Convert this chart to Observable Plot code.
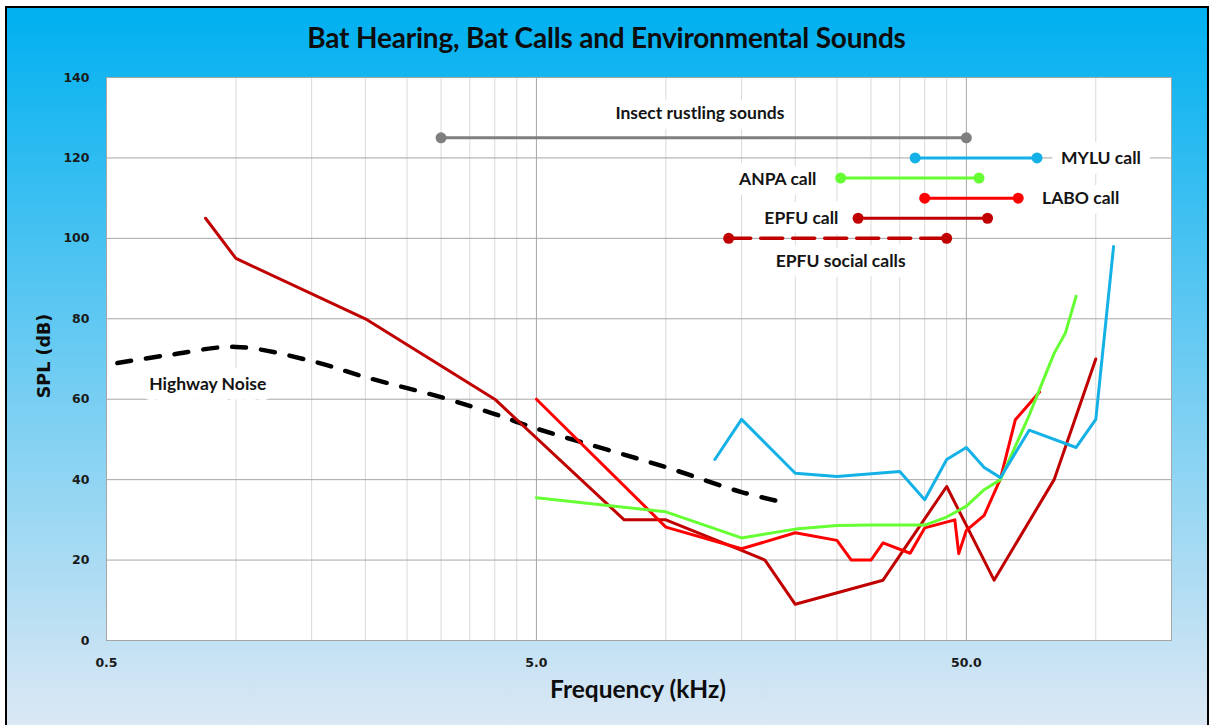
<!DOCTYPE html>
<html>
<head>
<meta charset="utf-8">
<script src="https://cdn.jsdelivr.net/npm/d3@7"></script>
<script src="https://cdn.jsdelivr.net/npm/@observablehq/plot@0.6"></script>
<style>
  html, body { margin: 0; padding: 0; background: #fff; }
  body { width: 1209px; height: 725px; position: relative; overflow: hidden; }
  #bg { position: absolute; left: 5px; top: 6px; width: 1204px; height: 725px; box-sizing: border-box;
        border-left: 2px solid #000; border-top: 2px solid #000; border-right: 2px solid #000;
        background: linear-gradient(to bottom, #00b0f0 0%, #dde8f4 100%); }
  #title { position: absolute; left: 0; top: 20px; width: 1213px; text-align: center;
           font: bold 28px Lato, "Open Sans", sans-serif; color: #0d0d0d; white-space: nowrap; letter-spacing: -0.2px; }
  #xtitle { position: absolute; left: 0; width: 1276px; top: 674px; text-align: center;
            font: bold 24.5px Lato, "Open Sans", sans-serif; color: #0d0d0d; }
  #ytitle { position: absolute; left: 44px; top: 356px; transform: translate(-50%, -50%) rotate(-90deg);
            font: bold 17.5px "DejaVu Sans", Verdana, sans-serif; color: #0d0d0d; white-space: nowrap; }
  #chart { position: absolute; left: 0; top: 0; }
  #chart svg { background: transparent !important; }
  #chart g[aria-label="x-axis tick label"] text,
  #chart g[aria-label="y-axis tick label"] text { font-family: "DejaVu Sans", Verdana, sans-serif; font-weight: bold; font-size: 12.5px; fill: #1a1a1a; }
</style>
</head>
<body>
<div id="bg"></div>
<div id="chart"></div>
<div id="title">Bat Hearing, Bat Calls and Environmental Sounds</div>
<div id="ytitle">SPL (dB)</div>
<div id="xtitle">Frequency (kHz)</div>
<script>
// ---- Axis ticks ----
const xLabelTicks = [0.5, 5, 50];
const xMajorGrid = [5, 50];
const xMinorGrid = [1, 1.5, 2, 2.5, 3, 3.5, 4, 4.5, 10, 15, 20, 25, 30, 35, 40, 45, 100];
const yTicks = [0, 20, 40, 60, 80, 100, 120, 140];

// ---- Hearing curves (frequency kHz, SPL dB) ----
const myluFreq = [13, 15, 20, 25, 35, 40, 45, 50, 55, 60, 70, 90, 100, 110];
const myluSpl  = [45, 55, 41.6, 40.8, 42, 35, 45, 48, 43, 40.5, 52.3, 48, 55, 98];

const anpaFreq = [5, 10, 15, 20, 25, 30, 35, 40, 45, 50, 55, 60, 70, 75, 80, 85, 90];
const anpaSpl  = [35.5, 32, 25.5, 27.7, 28.6, 28.7, 28.7, 28.7, 30.7, 33.4, 37.5, 40, 56, 64, 71.4, 76.5, 85.6];

const laboFreq = [5, 10, 15, 20, 25, 27, 30, 32, 37, 40, 47, 48, 50, 55, 60, 65, 74];
const laboSpl  = [60, 28.2, 22.8, 26.8, 24.9, 20, 20, 24.3, 21.7, 28, 30, 21.6, 27.4, 31.1, 40.2, 54.9, 61.8];

const epfuFreq = [0.85, 1, 2, 4, 8, 10, 15, 17, 20, 32, 45, 58, 80, 100];
const epfuSpl  = [105, 95, 80, 60, 30, 30, 22.4, 20, 9, 15, 38.3, 15, 40, 70];

const highwayFreq = [0.53, 0.7, 1, 1.5, 2, 3, 4, 5, 10, 15, 18];
const highwaySpl  = [69, 71, 73, 69.5, 65.5, 60.5, 56.3, 52.7, 43.1, 36.9, 34.8];

// ---- Call / sound ranges ----
const rangeNames = ["Insect rustling sounds", "MYLU call", "ANPA call", "LABO call", "EPFU call", "EPFU social calls"];
const rangeLow   = [3, 38, 25.5, 40, 28, 14];
const rangeHigh  = [50, 73, 53.5, 66, 56, 45];
const rangeSpl   = [125, 120, 115, 110, 105, 100];

// ---- Labels ----
const labelText   = ["Insect rustling sounds", "MYLU call", "ANPA call", "LABO call", "EPFU call", "EPFU social calls", "Highway Noise"];
const labelFreq   = [12, 83, 22.4, 75, 25.2, 25.5, 0.86];
const labelSpl    = [131, 120, 114.6, 110, 105, 94.2, 63.7];
const labelAnchor = ["middle", "start", "end", "start", "end", "middle", "middle"];

// ---- Colours ----
const BLUE = "#14b1e7", GREEN = "#66ff33", RED = "#ff0000", DARKRED = "#c00000", GRAY = "#7f7f7f";
const rangeColors = [GRAY, BLUE, GREEN, RED, DARKRED, DARKRED];

const pts = (fs, vs) => fs.map((f, i) => ({f, v: vs[i]}));

const rangeMarks = [];
rangeNames.forEach((n, i) => {
  const d = [{f: rangeLow[i], v: rangeSpl[i]}, {f: rangeHigh[i], v: rangeSpl[i]}];
  rangeMarks.push(Plot.line(d, {x: "f", y: "v", stroke: rangeColors[i], strokeWidth: n === "EPFU social calls" ? 3.5 : 3,
    strokeDasharray: n === "EPFU social calls" ? "22,10" : null}));
  rangeMarks.push(Plot.dot(d, {x: "f", y: "v", r: 5.5, fill: rangeColors[i], stroke: "none"}));
});

const labels = labelText.map((t, i) => ({t, f: labelFreq[i], v: labelSpl[i], a: labelAnchor[i]}));
const labelMarks = ["start", "middle", "end"].map(a =>
  Plot.text(labels.filter(d => d.a === a), {x: "f", y: "v", text: "t", textAnchor: a,
    fontFamily: "Lato, 'Open Sans', sans-serif", fontSize: 17.5, fontWeight: "bold", fill: "#141414",
    stroke: "white", strokeWidth: 20, strokeLinejoin: "round"}));

const chart = Plot.plot({
  width: 1209, height: 725,
  marginLeft: 106, marginRight: 38, marginTop: 77, marginBottom: 85,
  style: {background: "transparent", color: "#1a1a1a"},
  x: {type: "log", domain: [0.5, 150], axis: null},
  y: {domain: [0, 140], axis: null},
  marks: [
    Plot.frame({fill: "white", stroke: "none"}),
    Plot.gridX(xMinorGrid, {stroke: "#d9d9d9", strokeOpacity: 1, strokeWidth: 1}),
    Plot.gridX(xMajorGrid, {stroke: "#a6a6a6", strokeOpacity: 1, strokeWidth: 1}),
    Plot.gridY(yTicks, {stroke: "#a6a6a6", strokeOpacity: 1, strokeWidth: 1}),
    Plot.frame({stroke: "#a6a6a6", strokeWidth: 1}),
    Plot.axisY(yTicks, {tickSize: 0, tickPadding: 17, label: null}),
    Plot.axisX(xLabelTicks, {tickSize: 0, tickPadding: 18, tickFormat: d3.format(".1f"), label: null}),
    ...labelMarks,
    Plot.line(pts(highwayFreq, highwaySpl), {x: "f", y: "v", stroke: "#000", strokeWidth: 4.5,
      strokeDasharray: "14,15", strokeLinecap: "round", curve: "catmull-rom"}),
    Plot.line(pts(epfuFreq, epfuSpl), {x: "f", y: "v", stroke: DARKRED, strokeWidth: 3}),
    Plot.line(pts(laboFreq, laboSpl), {x: "f", y: "v", stroke: RED, strokeWidth: 3}),
    Plot.line(pts(anpaFreq, anpaSpl), {x: "f", y: "v", stroke: GREEN, strokeWidth: 3}),
    Plot.line(pts(myluFreq, myluSpl), {x: "f", y: "v", stroke: BLUE, strokeWidth: 3}),
    ...rangeMarks
  ]
});
document.getElementById("chart").appendChild(chart);
</script>
</body>
</html>
